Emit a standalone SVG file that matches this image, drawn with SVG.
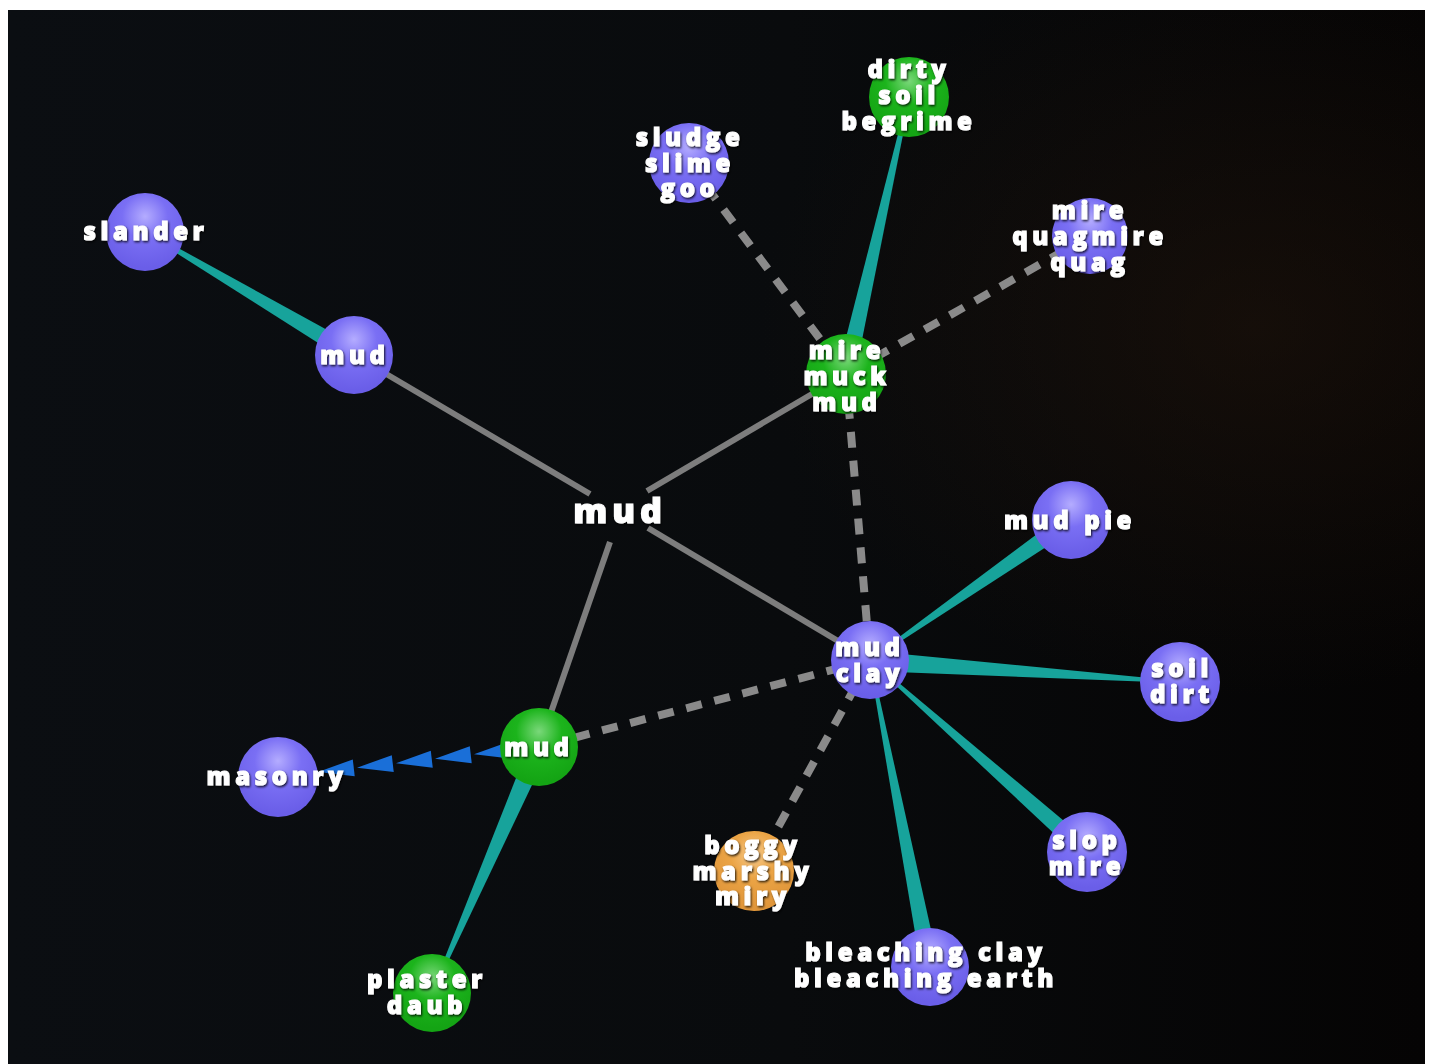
<svg xmlns="http://www.w3.org/2000/svg" width="1429" height="1064" viewBox="0 0 1429 1064">
  <defs>
    <linearGradient id="bg" x1="0" y1="0" x2="1" y2="0">
      <stop offset="0" stop-color="#0b0e12"/>
      <stop offset="0.55" stop-color="#090b0d"/>
      <stop offset="1" stop-color="#050404"/>
    </linearGradient>
    <radialGradient id="warm" cx="0.88" cy="0.3" r="0.35">
      <stop offset="0" stop-color="#24160c" stop-opacity="0.5"/>
      <stop offset="1" stop-color="#24160c" stop-opacity="0"/>
    </radialGradient>
    <radialGradient id="gBlue" cx="0.5" cy="0.3" r="0.65">
      <stop offset="0" stop-color="#b4acff"/>
      <stop offset="0.45" stop-color="#7a6ff4"/>
      <stop offset="1" stop-color="#6a5ee8"/>
    </radialGradient>
    <radialGradient id="gGreen" cx="0.5" cy="0.3" r="0.65">
      <stop offset="0" stop-color="#7ad87a"/>
      <stop offset="0.45" stop-color="#1cb41c"/>
      <stop offset="1" stop-color="#14a414"/>
    </radialGradient>
    <radialGradient id="gOrange" cx="0.5" cy="0.3" r="0.65">
      <stop offset="0" stop-color="#f6c98a"/>
      <stop offset="0.45" stop-color="#eba445"/>
      <stop offset="1" stop-color="#e0963a"/>
    </radialGradient>
    <filter id="shadow" x="-20%" y="-40%" width="140%" height="180%">
      <feDropShadow dx="1" dy="1.5" stdDeviation="1.2" flood-color="#000000" flood-opacity="0.85"/>
    </filter>
    <path id="arrowTri" d="M0,0 L36,-8.5 L36,8.5 Z"/>
  </defs>
  <style>
    .solid { stroke: #7d7d7d; stroke-width: 6; fill: none; }
    .dash { stroke: #8a8a8a; stroke-width: 8; fill: none; stroke-dasharray: 16 13; }
    .taper { fill: #17a39b; }
    .arr { fill: #1a6fd8; }
    .blue { fill: url(#gBlue); }
    .green { fill: url(#gGreen); }
    .orange { fill: url(#gOrange); }
    text { font-family: "Open Sans", "Liberation Sans", sans-serif; font-weight: 800; fill: #ffffff; text-anchor: middle; stroke: #ffffff; stroke-width: 1.1; filter: url(#shadow); }
    .lbl { font-size: 24px; letter-spacing: 4.6px; }
    .big { font-size: 34px; letter-spacing: 5px; }
  </style>

  <rect x="0" y="0" width="1429" height="1064" fill="#ffffff"/>
  <rect x="8" y="10" width="1417" height="1054" fill="url(#bg)"/>
  <rect x="8" y="10" width="1417" height="1054" fill="url(#warm)"/>

  <g id="connectors">
    <line class="solid" x1="590" y1="494" x2="354" y2="355"/>
    <line class="solid" x1="647" y1="491" x2="846" y2="374"/>
    <line class="solid" x1="648" y1="528" x2="870" y2="660"/>
    <line class="solid" x1="610" y1="542" x2="539" y2="747"/>
    <line class="dash" x1="689" y1="163" x2="846" y2="374"/>
    <line class="dash" x1="1090" y1="236" x2="846" y2="374"/>
    <line class="dash" x1="846" y1="374" x2="870" y2="660"/>
    <line class="dash" x1="870" y1="660" x2="539" y2="747"/>
    <line class="dash" x1="870" y1="660" x2="754" y2="871"/>
    <polygon class="taper" points="146.8,230.7 358.7,347.3 349.3,362.7 145.2,233.3"/>
    <polygon class="taper" points="907.5,96.7 910.5,97.3 854.8,375.9 837.2,372.1"/>
    <polygon class="taper" points="869.4,659.2 1065.8,512.6 1076.2,527.4 870.6,660.8"/>
    <polygon class="taper" points="870.7,651 1180.1,681 1179.9,683 869.3,671"/>
    <polygon class="taper" points="870.7,659.3 1093,845.3 1081,858.7 869.3,660.7"/>
    <polygon class="taper" points="871,659.8 938.9,965.4 921.1,968.6 869,660.2"/>
    <polygon class="taper" points="529.9,742.9 548.1,751.1 432.9,993.4 431.1,992.6"/>
    <use href="#arrowTri" class="arr" transform="translate(318,772) rotate(-6.56)"/>
    <use href="#arrowTri" class="arr" transform="translate(357,767.7) rotate(-6.56)"/>
    <use href="#arrowTri" class="arr" transform="translate(396,763.3) rotate(-6.56)"/>
    <use href="#arrowTri" class="arr" transform="translate(435,758.8) rotate(-6.56)"/>
    <use href="#arrowTri" class="arr" transform="translate(474,754.3) rotate(-6.56)"/>
  </g>

  <g id="node-center">
    <text class="big" x="620" y="523">mud</text>
  </g>
  <g id="node-slander">
    <circle class="blue" cx="145" cy="232" r="39"/>
    <text class="lbl" x="146" y="240">slander</text>
  </g>
  <g id="node-mud-left">
    <circle class="blue" cx="354" cy="355" r="39"/>
    <text class="lbl" x="355" y="364">mud</text>
  </g>
  <g id="node-sludge">
    <circle class="blue" cx="689" cy="163" r="40"/>
    <text class="lbl" x="690" y="146">sludge</text>
    <text class="lbl" x="690" y="172">slime</text>
    <text class="lbl" x="690" y="197">goo</text>
  </g>
  <g id="node-dirty">
    <circle class="green" cx="909" cy="97" r="40"/>
    <text class="lbl" x="909" y="78">dirty</text>
    <text class="lbl" x="909" y="104">soil</text>
    <text class="lbl" x="909" y="130">begrime</text>
  </g>
  <g id="node-mire-quag">
    <circle class="blue" cx="1090" cy="236" r="38"/>
    <text class="lbl" x="1090" y="219">mire</text>
    <text class="lbl" x="1090" y="245">quagmire</text>
    <text class="lbl" x="1090" y="271">quag</text>
  </g>
  <g id="node-mire-muck">
    <circle class="green" cx="846" cy="374" r="40"/>
    <text class="lbl" x="847" y="359">mire</text>
    <text class="lbl" x="847" y="385">muck</text>
    <text class="lbl" x="847" y="411">mud</text>
  </g>
  <g id="node-mud-pie">
    <circle class="blue" cx="1071" cy="520" r="39"/>
    <text class="lbl" x="1070" y="529">mud pie</text>
  </g>
  <g id="node-mud-clay">
    <circle class="blue" cx="870" cy="660" r="39"/>
    <text class="lbl" x="870" y="656">mud</text>
    <text class="lbl" x="870" y="682">clay</text>
  </g>
  <g id="node-soil-dirt">
    <circle class="blue" cx="1180" cy="682" r="40"/>
    <text class="lbl" x="1182" y="677">soil</text>
    <text class="lbl" x="1182" y="703">dirt</text>
  </g>
  <g id="node-slop">
    <circle class="blue" cx="1087" cy="852" r="40"/>
    <text class="lbl" x="1087" y="849">slop</text>
    <text class="lbl" x="1087" y="875">mire</text>
  </g>
  <g id="node-boggy">
    <circle class="orange" cx="754" cy="871" r="40"/>
    <text class="lbl" x="753" y="854">boggy</text>
    <text class="lbl" x="753" y="880">marshy</text>
    <text class="lbl" x="753" y="905">miry</text>
  </g>
  <g id="node-bleaching">
    <circle class="blue" cx="930" cy="967" r="39"/>
    <text class="lbl" x="926" y="961">bleaching clay</text>
    <text class="lbl" x="926" y="987">bleaching earth</text>
  </g>
  <g id="node-mud-green">
    <circle class="green" cx="539" cy="747" r="39"/>
    <text class="lbl" x="539" y="756">mud</text>
  </g>
  <g id="node-masonry">
    <circle class="blue" cx="278" cy="777" r="40"/>
    <text class="lbl" x="277" y="785">masonry</text>
  </g>
  <g id="node-plaster">
    <circle class="green" cx="432" cy="993" r="39"/>
    <text class="lbl" x="427" y="988">plaster</text>
    <text class="lbl" x="427" y="1014">daub</text>
  </g>
</svg>
